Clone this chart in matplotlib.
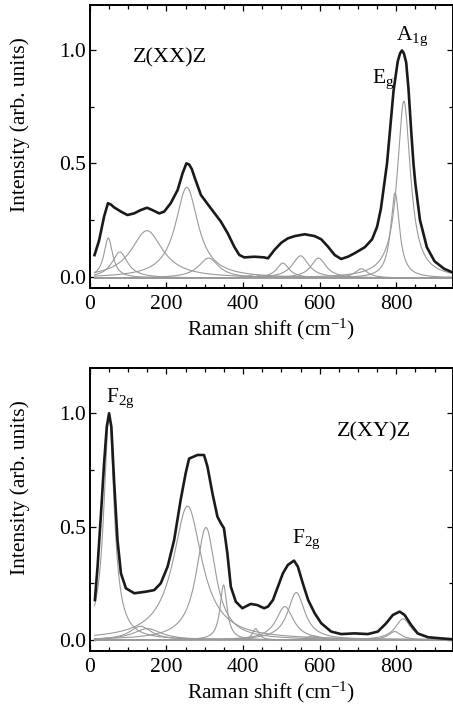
import numpy as np
import matplotlib
matplotlib.use("Agg")
import matplotlib.pyplot as plt
from matplotlib.ticker import MultipleLocator

plt.rcParams['font.family'] = 'Liberation Serif'
plt.rcParams['mathtext.fontset'] = 'custom'
plt.rcParams['mathtext.rm'] = 'Liberation Serif'
plt.rcParams['mathtext.it'] = 'Liberation Serif:italic'

xx_shift = [12, 24, 37, 47, 55, 63, 81, 98, 115, 133, 149, 163, 181, 194, 211, 229,
            242, 252, 259, 266, 274, 290, 316, 342, 360, 377, 390, 403, 430, 455, 465,
            482, 500, 517, 535, 561, 587, 604, 622, 639, 656, 674, 691, 718, 737,
            750, 760, 768, 776, 784, 793, 804, 810, 815, 820, 826, 832, 840, 845, 850,
            862, 880, 900, 925, 948]
xx_int = [0.095, 0.16, 0.265, 0.324, 0.318, 0.306, 0.287, 0.272, 0.279, 0.294, 0.304,
          0.294, 0.279, 0.287, 0.324, 0.382, 0.456, 0.5, 0.495, 0.475, 0.435, 0.36,
          0.301, 0.243, 0.191, 0.132, 0.096, 0.085, 0.088, 0.085, 0.081, 0.118, 0.15,
          0.169, 0.179, 0.187, 0.179, 0.165, 0.132, 0.096, 0.078, 0.088, 0.103, 0.13,
          0.165, 0.22, 0.3, 0.4, 0.5, 0.65, 0.82, 0.95, 0.985, 0.998, 0.985, 0.945,
          0.83, 0.62, 0.5, 0.41, 0.25, 0.13, 0.068, 0.035, 0.018]

# fitted Lorentzian components: centre, height, half width
xx_center = [48, 78, 149, 253, 310, 430, 504, 550, 597, 709, 797, 820]
xx_height = [0.176, 0.115, 0.209, 0.40, 0.088, 0.015, 0.066, 0.098, 0.088, 0.041, 0.375, 0.78]
xx_hwhm = [14, 25, 50, 36, 32, 20, 20, 26, 24, 20, 14, 21]
xx_base = -0.006

# ---- Z(XY)Z
xy_shift = [13, 20, 29, 37, 44, 50, 56, 63, 72, 81, 94, 116, 146, 168, 185, 203, 220,
            237, 250, 259, 281, 298, 307, 320, 333, 342, 350, 359, 368, 381, 398, 420,
            437, 455, 465, 478, 491, 504, 517, 533, 543, 556, 570, 587, 604, 630, 656,
            691, 726, 752, 774, 791, 809, 822, 839, 856, 883, 917, 948]
xy_int = [0.176, 0.324, 0.559, 0.78, 0.94, 1.0, 0.94, 0.706, 0.441, 0.294, 0.228,
          0.206, 0.213, 0.22, 0.25, 0.324, 0.441, 0.618, 0.735, 0.8, 0.816, 0.816,
          0.765, 0.647, 0.544, 0.515, 0.493, 0.382, 0.235, 0.169, 0.14, 0.159, 0.154,
          0.14, 0.147, 0.176, 0.235, 0.294, 0.331, 0.35, 0.324, 0.25, 0.176, 0.118,
          0.074, 0.037, 0.026, 0.029, 0.026, 0.037, 0.074, 0.11, 0.125, 0.11, 0.066,
          0.029, 0.012, 0.007, 0.003]

xy_center = [50, 132, 150, 255, 303, 349, 433, 509, 539, 583, 796, 818]
xy_height = [1.0, 0.06, 0.05, 0.59, 0.496, 0.243, 0.05, 0.147, 0.209, 0.018, 0.037, 0.093]
xy_hwhm = [16, 35, 45, 46, 31, 11, 10, 28, 27, 20, 20, 25]
xy_base = 0.0


def lorentz(x, c, h, w):
    return h / (1 + ((x - c) / w) ** 2)


def draw_panel(ax, shift, inten, centers, heights, widths, base):
    grid = np.linspace(12, 948, 1500)
    for c, h, w in zip(centers, heights, widths):
        ax.plot(grid, lorentz(grid, c, h, w) + base, color='#9a9a9a', lw=0.8)
    ax.plot(shift, inten, color='#1a1a1a', lw=1.9)

    ax.set_xlim(0, 947)
    ax.set_ylim(-0.05, 1.2)
    ax.xaxis.set_major_locator(MultipleLocator(200))
    ax.xaxis.set_minor_locator(MultipleLocator(50))
    ax.yaxis.set_major_locator(MultipleLocator(0.5))
    ax.yaxis.set_minor_locator(MultipleLocator(0.25))
    ax.tick_params(which='both', direction='in', top=True, right=True, width=0.9, labelsize=15.5)
    ax.tick_params(which='major', length=4.5)
    ax.tick_params(which='minor', length=3)
    ax.tick_params(axis='x', pad=5)
    ax.tick_params(axis='y', pad=3)
    for s in ax.spines.values():
        s.set_linewidth(1.4)
    ax.set_xlabel(r'Raman shift (cm$^{\mathrm{-1}}$)', fontsize=15.5, labelpad=2)
    ax.set_ylabel('Intensity (arb. units)', fontsize=15.5)
    ax.yaxis.set_label_coords(-0.165, 0.578)


fig = plt.figure(figsize=(4.53, 7.15), dpi=100)
ax1 = fig.add_axes([0.1985, 0.5972, 0.8004, 0.3963])
ax2 = fig.add_axes([0.1985, 0.0891, 0.8004, 0.3963])

draw_panel(ax1, xx_shift, xx_int, xx_center, xx_height, xx_hwhm, xx_base)
draw_panel(ax2, xy_shift, xy_int, xy_center, xy_height, xy_hwhm, xy_base)

ax1.text(209, 0.965, 'Z(XX)Z', fontsize=16, ha='center', va='center')
ax1.text(799, 1.044, r'A$_{\mathrm{1g}}$', fontsize=15.5)
ax1.text(737, 0.854, r'E$_{\mathrm{g}}$', fontsize=15.5)

ax2.text(43, 1.048, r'F$_{\mathrm{2g}}$', fontsize=15.5)
ax2.text(742, 0.917, 'Z(XY)Z', fontsize=16, ha='center', va='center')
ax2.text(529, 0.428, r'F$_{\mathrm{2g}}$', fontsize=15.5)

fig.savefig('out.png', dpi=100)
